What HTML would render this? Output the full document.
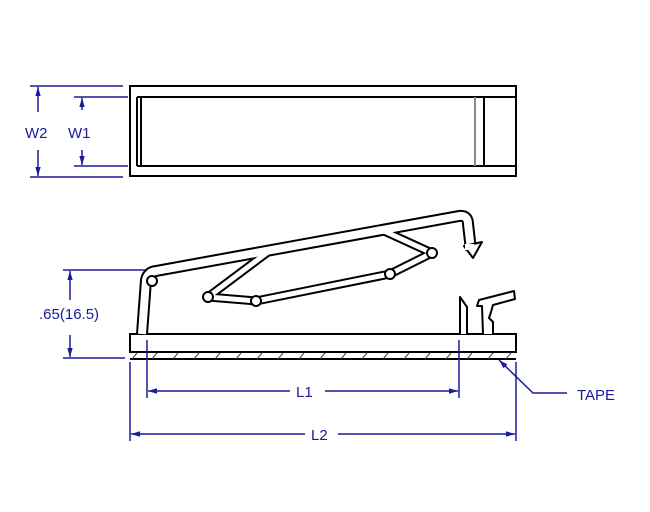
<!DOCTYPE html>
<html><head><style>html,body{margin:0;padding:0;background:#fff;}svg{display:block}</style></head>
<body>
<svg width="650" height="512" viewBox="0 0 650 512" xmlns="http://www.w3.org/2000/svg" font-family="Liberation Sans, sans-serif">
<defs>
<marker id="a" viewBox="0 0 10 10" refX="10" refY="5" markerWidth="6" markerHeight="6" orient="auto-start-reverse"><path d="M0,2 L10,5 L0,8 z" fill="#1a1a9a"/></marker>
</defs>
<!-- top view -->
<g fill="none" stroke="#000" stroke-width="2">
<rect x="130" y="86" width="386" height="90"/>
<line x1="137" y1="97" x2="516" y2="97"/>
<line x1="137" y1="166" x2="516" y2="166"/>
<line x1="137" y1="97" x2="137" y2="166"/>
<line x1="141" y1="97" x2="141" y2="166"/>
<line x1="475" y1="97" x2="475" y2="166" stroke="#888"/>
<line x1="484" y1="97" x2="484" y2="166"/>
</g>
<g stroke="#1a1a9a" stroke-width="1.5" fill="none">
<line x1="30" y1="86" x2="123" y2="86"/>
<line x1="30" y1="177" x2="123" y2="177"/>
<line x1="74" y1="97" x2="128" y2="97"/>
<line x1="74" y1="166" x2="128" y2="166"/>
<line x1="38" y1="112" x2="38" y2="87" marker-end="url(#a)"/>
<line x1="38" y1="150" x2="38" y2="176" marker-end="url(#a)"/>
<line x1="82" y1="110" x2="82" y2="98" marker-end="url(#a)"/>
<line x1="82" y1="150" x2="82" y2="165" marker-end="url(#a)"/>
</g>
<text x="25" y="138" font-size="15" fill="#1a1a9a">W2</text>
<text x="68" y="138" font-size="15" fill="#1a1a9a">W1</text>
<!-- side view base -->
<g fill="none" stroke="#000" stroke-width="2">
<rect x="130" y="334" width="386" height="18"/>
<line x1="130" y1="359" x2="516" y2="359"/>
</g>
<g stroke="#444" stroke-width="1">
<path d="M132,359l5,-6 M152,359l5,-6 M173,359l5,-6 M194,359l5,-6 M215,359l5,-6 M236,359l5,-6 M257,359l5,-6 M278,359l5,-6 M299,359l5,-6 M320,359l5,-6 M341,359l5,-6 M362,359l5,-6 M383,359l5,-6 M404,359l5,-6 M425,359l5,-6 M446,359l5,-6 M467,359l5,-6 M488,359l5,-6 M506,359l5,-6"/>
</g>
<!-- arm -->
<g fill="none" stroke-linejoin="round" stroke-linecap="butt">
<path id="arm" d="M142,334 L146,280 Q148,272 156,271 L459,216 Q468,215 468,224 L471,250"/>
<path id="lat" d="M268,252 L208,297 L256,301 L390,274 L432,253 L384,231"/>
<use href="#arm" stroke="#000" stroke-width="12"/>
<use href="#lat" stroke="#000" stroke-width="9"/>
<use href="#arm" stroke="#fff" stroke-width="8"/>
<use href="#lat" stroke="#fff" stroke-width="5"/>
</g>
<path d="M464,246 L482,242 L473,258 Z" fill="#fff" stroke="#000" stroke-width="2" stroke-linejoin="round"/>
<rect x="465" y="244" width="9" height="6" fill="#fff"/>
<g fill="#fff" stroke="#000" stroke-width="2">
<circle cx="152" cy="281" r="5"/>
<circle cx="208" cy="297" r="5"/>
<circle cx="256" cy="301" r="5"/>
<circle cx="390" cy="274" r="5"/>
<circle cx="432" cy="253" r="5"/>
</g>
<!-- right tabs -->
<g fill="#fff" stroke="#000" stroke-width="2" stroke-linejoin="round">
<path d="M460,334 L460,297 L467,307 L467,334"/>
<path d="M483,334 L482,306 L477,306 L479,300 L514,291 L515,299 L493,305 L491,312 L489,318 L493,322 L493,334"/>
</g>
<!-- dimensions side -->
<g stroke="#1a1a9a" stroke-width="1.5" fill="none">
<line x1="63" y1="270" x2="145" y2="270"/>
<line x1="63" y1="358" x2="125" y2="358"/>
<line x1="70" y1="300" x2="70" y2="271" marker-end="url(#a)"/>
<line x1="70" y1="335" x2="70" y2="357" marker-end="url(#a)"/>
<line x1="147" y1="340" x2="147" y2="398"/>
<line x1="459" y1="340" x2="459" y2="398"/>
<line x1="130" y1="362" x2="130" y2="441"/>
<line x1="516" y1="362" x2="516" y2="441"/>
<line x1="290" y1="391" x2="148" y2="391" marker-end="url(#a)"/>
<line x1="325" y1="391" x2="458" y2="391" marker-end="url(#a)"/>
<line x1="305" y1="434" x2="131" y2="434" marker-end="url(#a)"/>
<line x1="338" y1="434" x2="515" y2="434" marker-end="url(#a)"/>
<path d="M567,393 L533,393 L499,360" marker-end="url(#a)"/>
</g>
<g font-size="15" fill="#1a1a9a">
<text x="39" y="319">.65(16.5)</text>
<text x="296" y="397">L1</text>
<text x="311" y="440">L2</text>
<text x="577" y="400">TAPE</text>
</g>
</svg>
</body></html>
